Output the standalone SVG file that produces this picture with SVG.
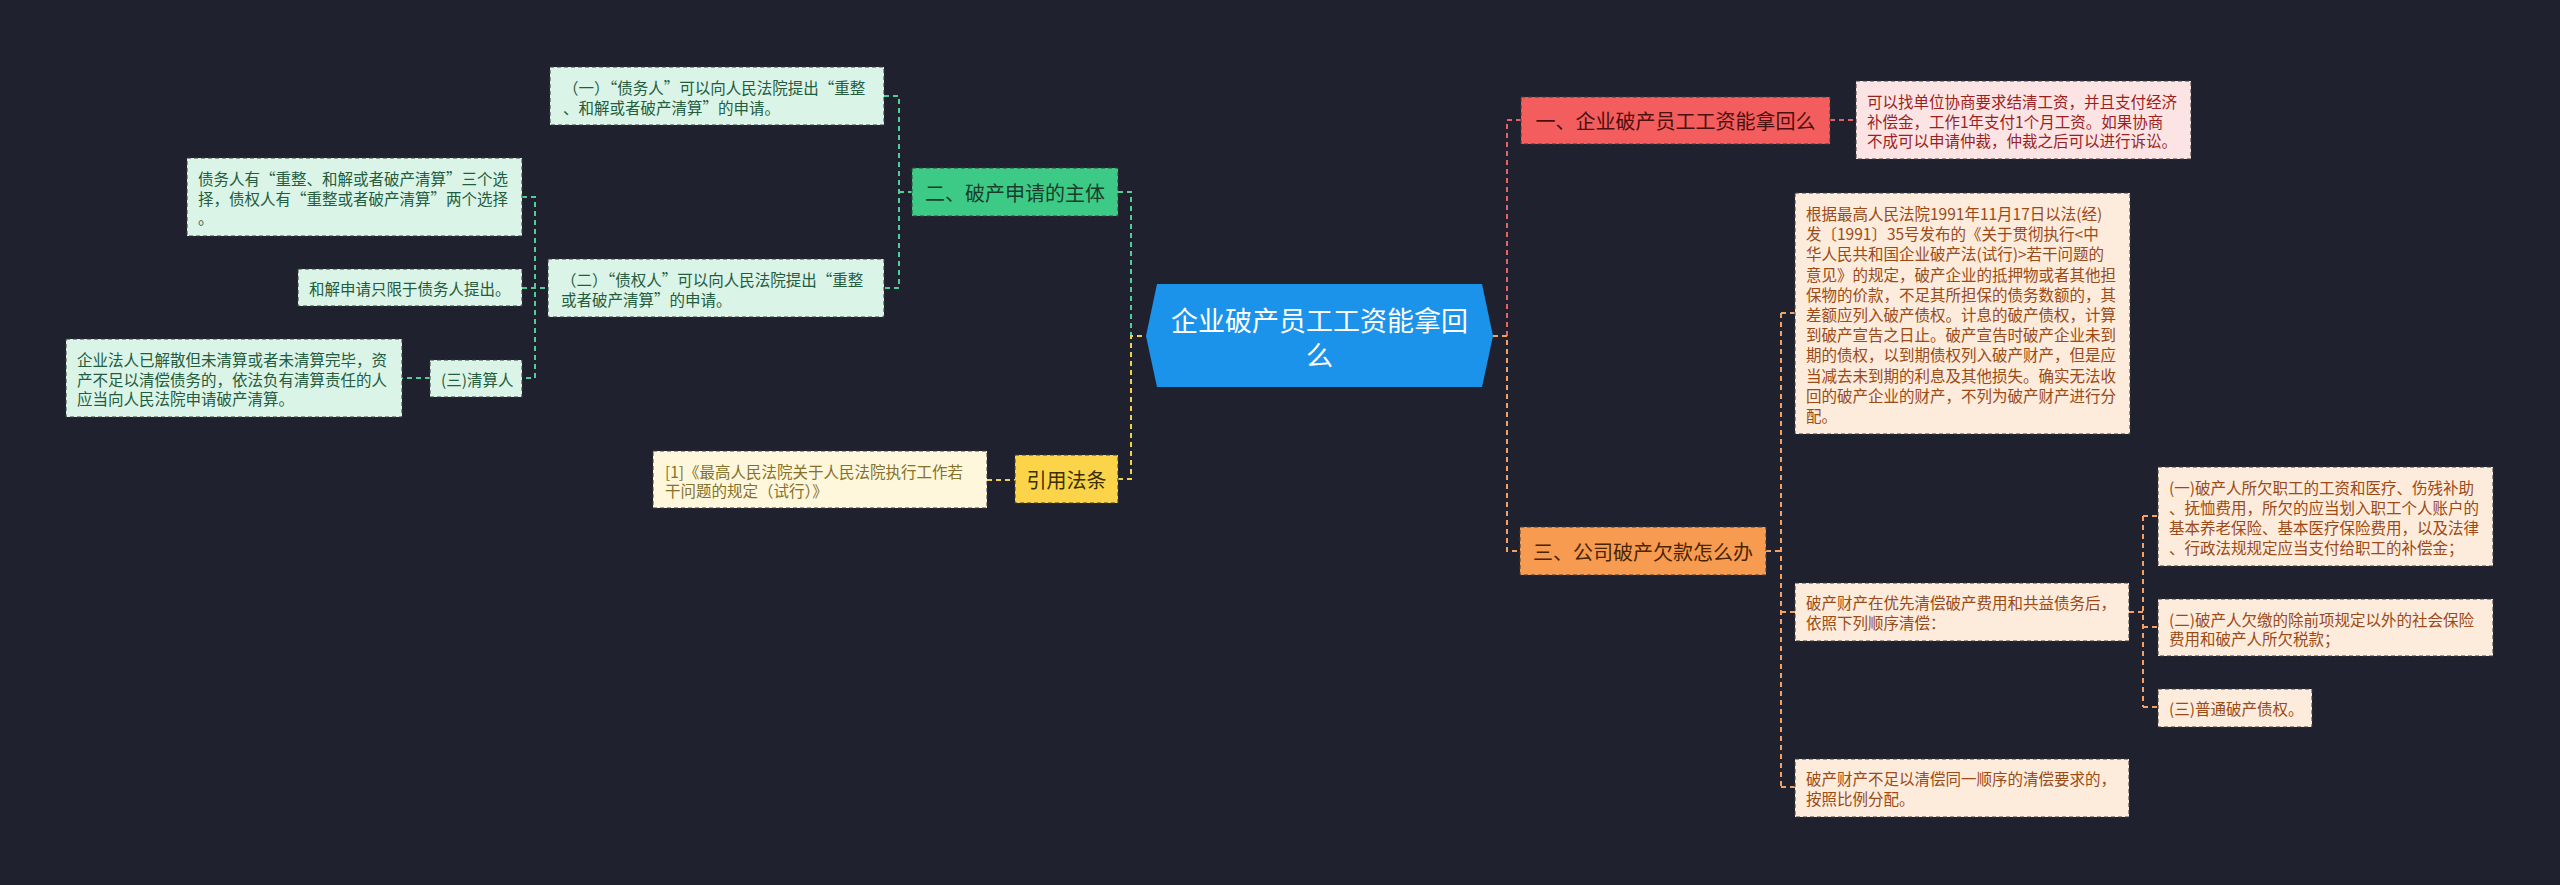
<svg xmlns="http://www.w3.org/2000/svg" width="2560" height="885" viewBox="0 0 2560 885">
<style>
text{font-family:"Noto Sans CJK SC","Noto Sans",sans-serif;dominant-baseline:central}
.sub{font-size:15.5px}
.main{font-size:20px}
.box{stroke:#3a3a3a;stroke-width:1;stroke-dasharray:4 3}
.g{fill:#daf4e7}.gt{fill:#245c40}
.y{fill:#fff7dc}.yt{fill:#85712a}
.r{fill:#fde4e4}.rt{fill:#9a1f1f}
.o{fill:#fdebdc}.ot{fill:#9a4a16}
.c{fill:none;stroke-width:2;stroke-dasharray:5 4}
</style>
<rect width="2560" height="885" fill="#1f222e"/>
<g id="connectors">
<path class="c" stroke="#4fcf95" d="M884,96 H899 V288 H884 M899,192 H912 M1118,192 H1131 V336"/>
<path class="c" stroke="#4fcf95" d="M522,197 H535 V378 H522 M522,288 H548 M430,378 H402"/>
<path class="c" stroke="#f2d04a" d="M1118,479 H1131 V336 H1146 M987,480 H1015"/>
<path class="c" stroke="#e46464" d="M1507,336 V120 H1521 M1830,120 H1856"/>
<path class="c" stroke="#f3a062" d="M1493,336 H1507 V551 H1520 M1766,551 H1781 M1781,313 V787 M1781,313 H1795 M1781,612 H1795 M1781,787 H1795 M2129,612 H2143 M2143,516 V707 M2143,516 H2158 M2143,627 H2158 M2143,707 H2158"/>
</g>
<g id="root">
<polygon points="1146,336 1157,284 1482,284 1493,336 1482,387 1157,387" fill="#1b93ea"/>
<text x="1319.5" y="319" font-size="27" fill="#ffffff" text-anchor="middle">企业破产员工工资能拿回</text>
<text x="1319.5" y="354" font-size="27" fill="#ffffff" text-anchor="middle">么</text>
</g>
<g id="n2">
<rect class="box" x="912" y="168" width="206" height="48" fill="#3dca87"/>
<text class="main" x="1015" y="192" fill="#1a3d2b" text-anchor="middle">二、破产申请的主体</text>
</g>
<g id="n2a">
<rect class="box g" x="550" y="67" width="334" height="58"/>
<text class="sub gt" x="563" y="87">（一）“债务人”可以向人民法院提出“重整</text>
<text class="sub gt" x="563" y="106.5">、和解或者破产清算”的申请。</text>
</g>
<g id="n2b">
<rect class="box g" x="548" y="259" width="336" height="58"/>
<text class="sub gt" x="561" y="279">（二）“债权人”可以向人民法院提出“重整</text>
<text class="sub gt" x="561" y="298.5">或者破产清算”的申请。</text>
</g>
<g id="n2b1">
<rect class="box g" x="187" y="158" width="335" height="78"/>
<text class="sub gt" x="198" y="178">债务人有“重整、和解或者破产清算”三个选</text>
<text class="sub gt" x="198" y="197.5">择，债权人有“重整或者破产清算”两个选择</text>
<text class="sub gt" x="198" y="217">。</text>
</g>
<g id="n2b2">
<rect class="box g" x="298" y="269" width="224" height="37"/>
<text class="sub gt" x="309" y="287.5">和解申请只限于债务人提出。</text>
</g>
<g id="n2b3">
<rect class="box g" x="430" y="360" width="92" height="37"/>
<text class="sub gt" x="441" y="378.5">(三)清算人</text>
</g>
<g id="n2b3a">
<rect class="box g" x="66" y="339" width="336" height="78"/>
<text class="sub gt" x="77" y="359">企业法人已解散但未清算或者未清算完毕，资</text>
<text class="sub gt" x="77" y="378.5">产不足以清偿债务的，依法负有清算责任的人</text>
<text class="sub gt" x="77" y="398">应当向人民法院申请破产清算。</text>
</g>
<g id="n4">
<rect class="box" x="1015" y="455" width="103" height="48" fill="#fbd449"/>
<text class="main" x="1066.5" y="479" fill="#3a2f00" text-anchor="middle">引用法条</text>
</g>
<g id="n4a">
<rect class="box y" x="653" y="451" width="334" height="57"/>
<text class="sub yt" x="665" y="471">[1]《最高人民法院关于人民法院执行工作若</text>
<text class="sub yt" x="665" y="490">干问题的规定（试行）》</text>
</g>
<g id="n1">
<rect class="box" x="1521" y="97" width="309" height="47" fill="#f45d5d"/>
<text class="main" x="1675.5" y="120.5" fill="#4a0f0f" text-anchor="middle">一、企业破产员工工资能拿回么</text>
</g>
<g id="n1a">
<rect class="box r" x="1856" y="81" width="335" height="78"/>
<text class="sub rt" x="1867" y="101">可以找单位协商要求结清工资，并且支付经济</text>
<text class="sub rt" x="1867" y="120.5">补偿金，工作1年支付1个月工资。如果协商</text>
<text class="sub rt" x="1867" y="140">不成可以申请仲裁，仲裁之后可以进行诉讼。</text>
</g>
<g id="n3">
<rect class="box" x="1520" y="527" width="246" height="48" fill="#f79b50"/>
<text class="main" x="1643" y="551" fill="#4a2300" text-anchor="middle">三、公司破产欠款怎么办</text>
</g>
<g id="n3a">
<rect class="box o" x="1795" y="193" width="335" height="241"/>
<text class="sub ot" x="1806" y="213">根据最高人民法院1991年11月17日以法(经)</text>
<text class="sub ot" x="1806" y="233.2">发〔1991〕35号发布的《关于贯彻执行&lt;中</text>
<text class="sub ot" x="1806" y="253.4">华人民共和国企业破产法(试行)&gt;若干问题的</text>
<text class="sub ot" x="1806" y="273.6">意见》的规定，破产企业的抵押物或者其他担</text>
<text class="sub ot" x="1806" y="293.8">保物的价款，不足其所担保的债务数额的，其</text>
<text class="sub ot" x="1806" y="314">差额应列入破产债权。计息的破产债权，计算</text>
<text class="sub ot" x="1806" y="334.2">到破产宣告之日止。破产宣告时破产企业未到</text>
<text class="sub ot" x="1806" y="354.4">期的债权，以到期债权列入破产财产，但是应</text>
<text class="sub ot" x="1806" y="374.6">当减去未到期的利息及其他损失。确实无法收</text>
<text class="sub ot" x="1806" y="394.8">回的破产企业的财产，不列为破产财产进行分</text>
<text class="sub ot" x="1806" y="415">配。</text>
</g>
<g id="n3b">
<rect class="box o" x="1795" y="583" width="334" height="58"/>
<text class="sub ot" x="1806" y="602">破产财产在优先清偿破产费用和共益债务后，</text>
<text class="sub ot" x="1806" y="621.5">依照下列顺序清偿：</text>
</g>
<g id="n3b1">
<rect class="box o" x="2158" y="467" width="335" height="99"/>
<text class="sub ot" x="2169" y="487">(一)破产人所欠职工的工资和医疗、伤残补助</text>
<text class="sub ot" x="2169" y="507">、抚恤费用，所欠的应当划入职工个人账户的</text>
<text class="sub ot" x="2169" y="527">基本养老保险、基本医疗保险费用，以及法律</text>
<text class="sub ot" x="2169" y="547">、行政法规规定应当支付给职工的补偿金；</text>
</g>
<g id="n3b2">
<rect class="box o" x="2158" y="599" width="335" height="57"/>
<text class="sub ot" x="2169" y="618.5">(二)破产人欠缴的除前项规定以外的社会保险</text>
<text class="sub ot" x="2169" y="638">费用和破产人所欠税款；</text>
</g>
<g id="n3b3">
<rect class="box o" x="2158" y="689" width="154" height="38"/>
<text class="sub ot" x="2169" y="708">(三)普通破产债权。</text>
</g>
<g id="n3c">
<rect class="box o" x="1795" y="759" width="334" height="58"/>
<text class="sub ot" x="1806" y="778">破产财产不足以清偿同一顺序的清偿要求的，</text>
<text class="sub ot" x="1806" y="797.5">按照比例分配。</text>
</g>
</svg>
